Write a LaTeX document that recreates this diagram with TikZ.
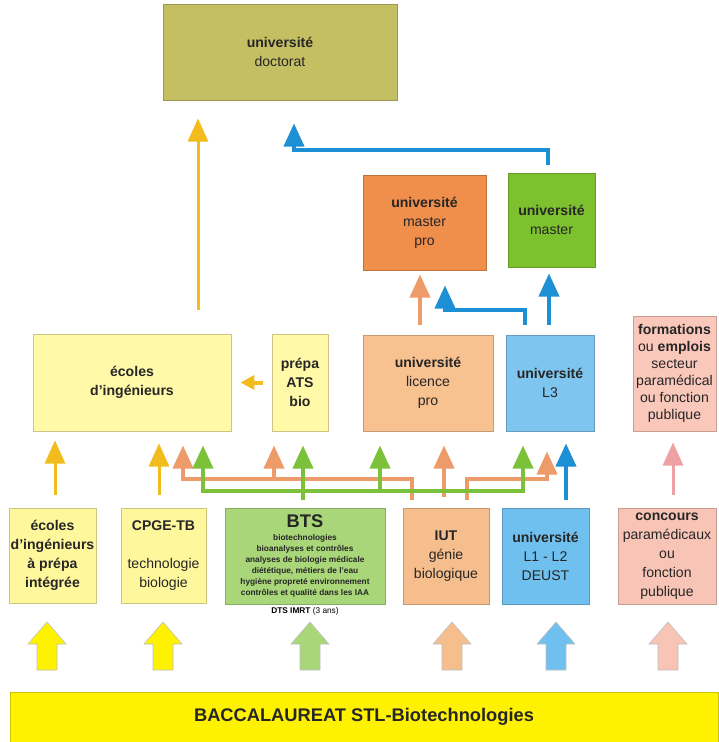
\documentclass[tikz,border=0pt]{standalone}
\usepackage{fontspec}
\setmainfont{Liberation Sans}
\usetikzlibrary{arrows.meta, positioning}

\definecolor{doctfill}{HTML}{C5BF63}
\definecolor{mprofill}{HTML}{F08E4C}
\definecolor{mastfill}{HTML}{7DC12F}
\definecolor{ecolfill}{HTML}{FFF9A8}
\definecolor{lprofill}{HTML}{F8C190}
\definecolor{licfill}{HTML}{7EC6EF}
\definecolor{formfill}{HTML}{F9C8BA}
\definecolor{epifill}{HTML}{FFF79C}
\definecolor{btsfill}{HTML}{A9D679}
\definecolor{iutfill}{HTML}{F7BE8D}
\definecolor{l12fill}{HTML}{6FC0EE}
\definecolor{concfill}{HTML}{F8C4B5}
\definecolor{bacfill}{HTML}{FFF200}
\definecolor{ayel}{HTML}{F2BD1C}
\definecolor{aora}{HTML}{EE9B6A}
\definecolor{agre}{HTML}{7BC13A}
\definecolor{ablu}{HTML}{1C8FD5}
\definecolor{apin}{HTML}{EEA0A4}

\begin{document}
\begin{tikzpicture}[
    x=0.025cm, y=-0.025cm,
    box/.style={rectangle, draw=#1!80!black, fill=#1, line width=0.5pt,
                inner sep=0pt, align=center, text=black!85,
                font=\fontsize{10}{13.5}\selectfont},
    arr/.style={-{Triangle[width=0.5cm,length=0.58cm]}, line width=0.1cm},
    bigup/.pic={\path[pic actions] (-10,0) -- (-10,-26) -- (-19,-26) -- (0,-48)
                 -- (19,-26) -- (10,-26) -- (10,0) -- cycle;}
]
  \useasboundingbox (0,0) rectangle (718,742);

  \node[box=doctfill, minimum width=5.85cm,  minimum height=2.4cm]   (doct) at (280,52)      {\textbf{université}\\doctorat};
  \node[box=mprofill, minimum width=3.075cm, minimum height=2.375cm] (mpro) at (424.5,222.5) {\textbf{université}\\master\\pro};
  \node[box=mastfill, minimum width=2.175cm, minimum height=2.35cm]  (mast) at (551.5,220)   {\textbf{université}\\master};

  \node[box=ecolfill, minimum width=4.95cm,  minimum height=2.425cm] (ecol) at (132,382.5)   {\textbf{écoles}\\\textbf{d’ingénieurs}};
  \node[box=ecolfill, minimum width=1.4cm,   minimum height=2.425cm] (ats)  at (300,382.5)   {\textbf{prépa}\\\textbf{ATS}\\\textbf{bio}};
  \node[box=lprofill, minimum width=3.25cm,  minimum height=2.4cm]   (lpro) at (428,383)     {\textbf{université}\\licence\\pro};
  \node[box=licfill,  minimum width=2.2cm,   minimum height=2.4cm]   (lic3) at (550,383)     {\textbf{université}\\L3};
  \node[box=formfill, minimum width=2.075cm, minimum height=2.875cm,
        font=\fontsize{10}{12}\selectfont]                           (form) at (674.5,373.5) {\textbf{formations}\\ou \textbf{emplois}\\secteur\\paramédical\\ou fonction\\publique};

  \node[box=epifill,  minimum width=2.175cm, minimum height=2.375cm] (epi)  at (52.5,555.5)  {\textbf{écoles}\\\textbf{d’ingénieurs}\\\textbf{à prépa}\\\textbf{intégrée}};
  \node[box=epifill,  minimum width=2.125cm, minimum height=2.375cm] (cpge) at (163.5,555.5) {\textbf{CPGE-TB}\\[13.5pt]technologie\\biologie};
  \node[box=btsfill,  minimum width=4cm,     minimum height=2.4cm,
        font=\fontsize{5.9}{7.8}\selectfont\bfseries]                (bts)  at (305,556)     {{\fontsize{13}{13}\selectfont BTS}\\[1.5pt]biotechnologies\\bioanalyses et contrôles\\analyses de biologie médicale\\diététique, métiers de l’eau\\hygiène propreté environnement\\contrôles et qualité dans les IAA};
  \node[font=\fontsize{5.9}{7}\selectfont, inner sep=1pt, below=1pt of bts] (dts) {\textbf{DTS IMRT} (3 ans)};
  \node[box=iutfill,  minimum width=2.15cm,  minimum height=2.4cm]   (iut)  at (446,556)     {\textbf{IUT}\\génie\\biologique};
  \node[box=l12fill,  minimum width=2.175cm, minimum height=2.4cm]   (l12)  at (545.5,556)   {\textbf{université}\\L1 - L2\\DEUST};
  \node[box=concfill, minimum width=2.45cm,  minimum height=2.4cm]   (conc) at (667,556)     {\textbf{concours}\\paramédicaux\\ou\\fonction\\publique};

  \node[box=bacfill, minimum width=17.7cm, minimum height=1.25cm,
        font=\fontsize{13}{15}\selectfont\bfseries]                  (bac)  at (364,717)     {BACCALAUREAT STL-Biotechnologies};

  \coordinate (obus) at (0,479);
  \coordinate (gbus) at (0,491);

  \draw[arr, ayel, line width=0.075cm, shorten <=0.6cm, shorten >=0.45cm] (198,0 |- ecol.north) -- (198,0 |- doct.south);
  \draw[ayel, line width=0.1cm, -{Triangle[width=0.35cm,length=0.35cm]},
        shorten <=0.225cm, shorten >=0.225cm] (ats.west) -- (ecol.east);
  \draw[arr, ayel, line width=0.075cm, shorten <=0.325cm, shorten >=0.225cm] (55,0 |- epi.north) -- (55,0 |- ecol.south);
  \draw[arr, ayel, line width=0.075cm, shorten <=0.325cm, shorten >=0.3cm] (159,0 |- cpge.north) -- (159,0 |- ecol.south);

  \draw[arr, aora, shorten <=0.25cm, shorten >=0.1cm] (420,0 |- lpro.north) -- (420,0 |- mpro.south);
  \draw[arr, aora, shorten <=0.2cm, shorten >=0.35cm] (412,0 |- iut.north) -- (412,0 |- obus) -| (183,0 |- ecol.south);
  \draw[arr, aora, shorten >=0.35cm] (274,0 |- obus) -- (274,0 |- ats.south);
  \draw[arr, aora, shorten <=0.275cm, shorten >=0.35cm] (444,0 |- iut.north) -- (444,0 |- lpro.south);
  \draw[arr, aora, shorten <=0.2cm, shorten >=0.5cm] (467,0 |- iut.north) |- (547,0 |- obus) -- (547,0 |- lic3.south);

  \draw[arr, agre, shorten <=0.2cm, shorten >=0.35cm] (303,0 |- bts.north) -- (303,0 |- ats.south);
  \draw[arr, agre, shorten >=0.35cm] (303,0 |- gbus) -| (203,0 |- ecol.south);
  \draw[arr, agre, shorten >=0.35cm] (303,0 |- gbus) -| (523,0 |- lic3.south);
  \draw[arr, agre, shorten >=0.35cm] (380,0 |- gbus) -- (380,0 |- lpro.south);

  \draw[arr, ablu, shorten <=0.2cm, shorten >=0.3cm] (566,0 |- l12.north) -- (566,0 |- lic3.south);
  \draw[arr, ablu, shorten <=0.25cm, shorten >=0.15cm] (549,0 |- lic3.north) -- (549,0 |- mast.south);
  \draw[arr, ablu, shorten <=0.25cm, shorten >=0.375cm] (525,0 |- lic3.north) |- (445,310) -- (445,0 |- mpro.south);
  \draw[arr, ablu, shorten <=0.2cm, shorten >=0.575cm] (548,0 |- mast.north) |- (294,150) -- (294,0 |- doct.south);

  \draw[arr, apin, line width=0.075cm, shorten <=0.325cm, shorten >=0.275cm] (673,0 |- conc.north) -- (673,0 |- form.south);

  \pic[fill=bacfill, draw=black!25]    (up1) at (47,670)  {bigup};
  \pic[fill=bacfill, draw=black!25]    (up2) at (163,670) {bigup};
  \pic[fill=btsfill, draw=black!25]    (up3) at (310,670) {bigup};
  \pic[fill=iutfill, draw=black!25]    (up4) at (452,670) {bigup};
  \pic[fill=l12fill, draw=black!25]    (up5) at (556,670) {bigup};
  \pic[fill=concfill, draw=black!25]   (up6) at (668,670) {bigup};
\end{tikzpicture}
\end{document}
